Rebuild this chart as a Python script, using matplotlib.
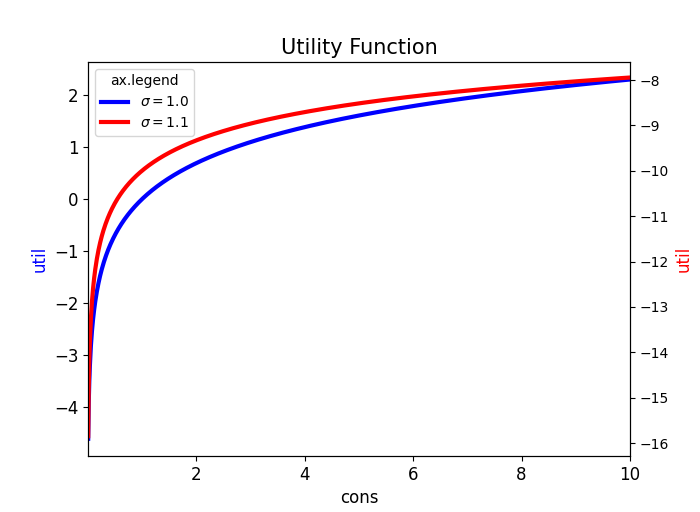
import numpy as np
import matplotlib
matplotlib.use("Agg")
import matplotlib.pyplot as plt

cons = np.linspace(0.01, 10, 1000)
sigmas = [1.0, 1.1]
colors = ["blue", "red"]

def util(c, s):
    if s == 1.0:
        return np.log(c)
    return c ** (1 - s) / (1 - s)

fig = plt.figure(figsize=(7, 5.12), dpi=100)
ax = fig.add_axes([0.126, 0.109, 0.774, 0.770])
ax2 = ax.twinx()
l1, = ax.plot(cons, util(cons, sigmas[0]), color=colors[0], lw=3, label=r"$\sigma = 1.0$")
l2, = ax2.plot(cons, util(cons, sigmas[1]), color=colors[1], lw=3, label=r"$\sigma = 1.1$")
ax.set_xlim(0.01, 10)
ax.set_ylim(-4.94, 2.64)
ax2.set_ylim(-16.29, -7.6)
ax.set_xticks([2, 4, 6, 8, 10])
ax.tick_params(labelsize=12)
ax2.tick_params(labelsize=10)
ax.set_xlabel("cons", fontsize=12)
ax.set_ylabel("util", color="blue", fontsize=12)
ax2.set_ylabel("util", color="red", fontsize=12)
ax.set_title("Utility Function", fontsize=15)
ax.legend(handles=[l1, l2], title="ax.legend", loc="upper left", fontsize=10)
fig.savefig("out.png", dpi=100)
